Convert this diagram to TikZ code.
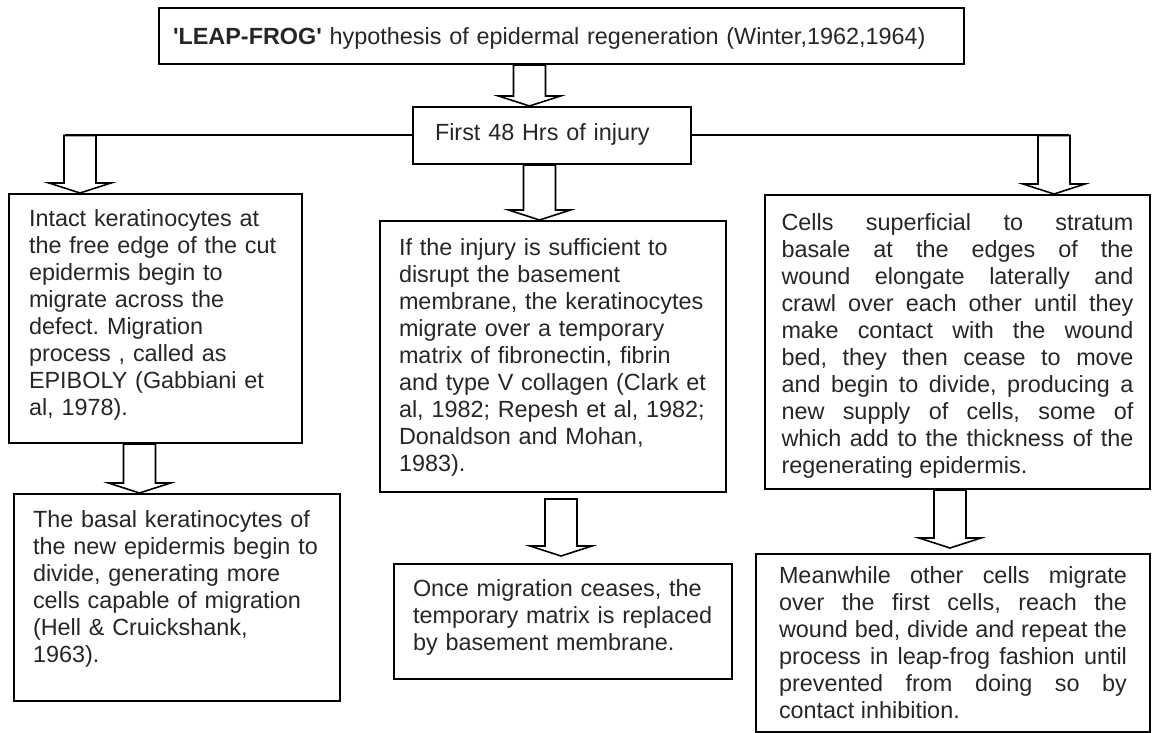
\documentclass[tikz,border=0pt]{standalone}
\usepackage{fontspec}
\setmainfont{Liberation Sans}
\usepackage{tikz}
\usetikzlibrary{calc}
\frenchspacing

\newcommand\shafthw{16pt}
\newcommand\headhw{31pt}
\newcommand\headlen{10pt}

\tikzset{
  cell/.style={draw, line width=2pt, anchor=north west, inner ysep=0pt, align=left,
    text=black!85, font=\fontsize{23.4pt}{27.1pt}\selectfont},
  blockarrow/.style={draw, line width=1.6pt, fill=white, to path={
    let \p1=(\tikztostart), \p2=(\tikztotarget) in
    (\x1-\shafthw,\y1) -- (\x1-\shafthw,\y2+\headlen) -- (\x1-\headhw,\y2+\headlen)
    -- (\x1,\y2) -- (\x1+\headhw,\y2+\headlen) -- (\x1+\shafthw,\y2+\headlen)
    -- (\x1+\shafthw,\y1) -- cycle}},
}

\begin{document}
\begin{tikzpicture}[x=1pt, y=-1pt]
  \useasboundingbox (0,0) rectangle (1152,733);
  % Define nodes
  \node[cell, text width=777pt, inner xsep=14pt, text height=36.4pt, text depth=19.6pt] (title) at (158,7)
    {\textbf{\textquotesingle LEAP-FROG\textquotesingle} hypothesis of epidermal regeneration (Winter,1962,1964)};
  \node[cell, text width=234pt, inner xsep=22pt, text height=34pt, text depth=23pt] (hrs) at (412,106)
    {First 48 Hrs of injury};
  \node[cell, text width=253pt, inner xsep=20pt, text height=32pt, text depth=217pt] (epiboly) at (8,193)
    {Intact keratinocytes at\\ the free edge of the cut\\ epidermis begin to\\ migrate across the\\
     defect. Migration\\ process , called as\\ EPIBOLY (Gabbiani et\\ al, 1978).};
  \node[cell, text width=308pt, inner xsep=19pt, text height=34pt, text depth=237pt] (disrupt) at (379,220)
    {If the injury is sufficient to\\ disrupt the basement\\ membrane, the keratinocytes\\
     migrate over a temporary\\ matrix of fibronectin, fibrin\\ and type V collagen (Clark et\\
     al, 1982; Repesh et al, 1982;\\ Donaldson and Mohan,\\ 1983).};
  \node[cell, align=justify, text width=352pt, inner xsep=16.5pt, text height=35pt, text depth=259pt] (superficial) at (764,194)
    {Cells superficial to stratum\linebreak basale at the edges of the\linebreak
     wound elongate laterally and\linebreak crawl over each other until they\linebreak
     make contact with the wound\linebreak bed, they then cease to move\linebreak
     and begin to divide, producing a\linebreak new supply of cells, some of\linebreak
     which add to the thickness of the\linebreak regenerating epidermis.};
  \node[cell, text width=288pt, inner xsep=19pt, text height=33pt, text depth=174pt] (basal) at (13,493)
    {The basal keratinocytes of\\ the new epidermis begin to\\ divide, generating more\\
     cells capable of migration\\ (Hell \& Cruickshank,\\ 1963).};
  \node[cell, text width=300pt, inner xsep=19pt, text height=32pt, text depth=83pt] (ceases) at (393,563)
    {Once migration ceases, the\\ temporary matrix is replaced\\ by basement membrane.};
  \node[cell, align=justify, text width=348pt, inner xsep=23pt, text height=29pt, text depth=149pt] (meanwhile) at (755,553)
    {Meanwhile other cells migrate\linebreak over the first cells, reach the\linebreak
     wound bed, divide and repeat the\linebreak process in leap-frog fashion until\linebreak
     prevented from doing so by\linebreak contact inhibition.};
  % Branch line
  \path (hrs.west) ++(-347,0) coordinate (lcorner);
  \path (hrs.east) ++(377,0) coordinate (rcorner);
  \draw[line width=2pt] (lcorner) -- (hrs.west);
  \draw[line width=2pt] (hrs.east) -- (rcorner);
  % Block arrows
  \draw[blockarrow] ([xshift=-32pt]title.south) to (hrs.north);
  \draw[blockarrow] ([xshift=15pt]lcorner) to (epiboly.north);
  \draw[blockarrow] ([xshift=-15pt]rcorner) to (superficial.north);
  \draw[blockarrow] ([xshift=-12.5pt]hrs.south) to (disrupt.north);
  \draw[blockarrow] ([xshift=-16pt]epiboly.south) to (basal.north);
  \draw[blockarrow] ([xshift=8pt,yshift=-6pt]disrupt.south) to ([yshift=7pt]ceases.north);
  \draw[blockarrow] ([xshift=-7.5pt]superficial.south) to ([yshift=5pt]meanwhile.north);
\end{tikzpicture}
\end{document}
